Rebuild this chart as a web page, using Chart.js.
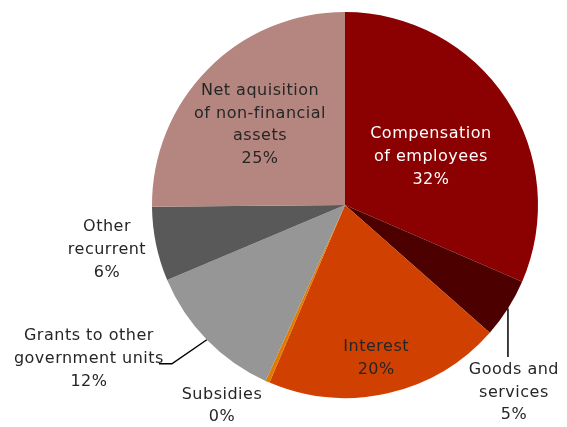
<!DOCTYPE html>
<html>
<head>
<meta charset="utf-8">
<script src="https://cdn.jsdelivr.net/npm/chart.js@4"></script>
<style>
    html, body { margin: 0; padding: 0; background: #fff; }
    #wrap { width: 567px; height: 427px; }
</style>
</head>
<body>
<div id="wrap"><canvas id="chart" width="567" height="427"></canvas></div>
<script>
/* Структура расходов: круговая диаграмма с подписями категорий и долей */

const categories = [
    ['Compensation', 'of employees'],
    ['Goods and', 'services'],
    ['Interest'],
    ['Subsidies'],
    ['Grants to other', 'government units'],
    ['Other', 'recurrent'],
    ['Net aquisition', 'of non-financial', 'assets'],
];
const shares = [31.5, 5.0, 19.9, 0.35, 11.9, 6.2, 25.15];
const colors = ['#8b0000', '#4d0000', '#d04000', '#e07a00', '#969696', '#595959', '#b5857f'];

// где стоит подпись: угол по часовой от 12 часов и доля радиуса
const labelPlace = [
    { a: 60.8, k: 0.51, color: '#ffffff' },
    { a: 138.0, k: 1.308, color: '#262626', leader: 'down' },
    { a: 168.5, k: 0.81, color: '#262626' },
    { a: 211.5, k: 1.22, color: '#262626' },
    { a: 239.0, k: 1.548, color: '#262626', leader: 'elbow' },
    { a: 259.3, k: 1.255, color: '#262626' },
    { a: 313.3, k: 0.605, color: '#262626' },
];

const FONT = '16px "Century Gothic", "DejaVu Sans", sans-serif';
const LINE_H = 22.7;

const total = shares.reduce((s, v) => s + v, 0);

const pieLabels = {
    id: 'pieLabels',
    afterDatasetsDraw(c) {
        const { ctx } = c;
        const arcs = c.getDatasetMeta(0).data;
        ctx.save();
        ctx.font = FONT;
        ctx.letterSpacing = '0.5px'; // Century Gothic чуть шире запасного шрифта
        ctx.textAlign = 'center';
        ctx.textBaseline = 'middle';
        arcs.forEach((arc, i) => {
            const { x: cx, y: cy, outerRadius: r, startAngle, endAngle } = arc;
            const p = labelPlace[i];
            const rad = (p.a - 90) * Math.PI / 180;
            const lx = cx + Math.cos(rad) * r * p.k;
            const ly = cy + Math.sin(rad) * r * p.k;
            const lines = [...categories[i], Math.round(shares[i] / total * 100) + '%'];
            const top = ly - (lines.length - 1) / 2 * LINE_H;

            if (p.leader) {
                const mid = (startAngle + endAngle) / 2;
                const ex = cx + Math.cos(mid) * r;
                const ey = cy + Math.sin(mid) * r;
                ctx.strokeStyle = '#000';
                ctx.lineWidth = 1.5;
                ctx.beginPath();
                ctx.moveTo(ex, ey);
                if (p.leader === 'down') {
                    ctx.lineTo(ex, top - 13);
                } else {
                    ctx.lineTo(lx + 83, ly + 5);
                    ctx.lineTo(lx + 70, ly + 5);
                }
                ctx.stroke();
            }

            ctx.fillStyle = p.color;
            lines.forEach((t, j) => ctx.fillText(t, lx, top + j * LINE_H));
        });
        ctx.restore();
    },
};

new Chart(document.getElementById('chart'), {
    type: 'pie',
    data: {
        labels: categories.map((c) => c.join(' ')),
        datasets: [{
            data: shares,
            backgroundColor: colors,
            borderWidth: 0,
        }],
    },
    options: {
        responsive: false,
        animation: false,
        layout: { padding: { left: 152, right: 29, top: 12, bottom: 29 } },
        plugins: { legend: { display: false }, tooltip: { enabled: false } },
    },
    plugins: [pieLabels],
});
</script>
</body>
</html>
